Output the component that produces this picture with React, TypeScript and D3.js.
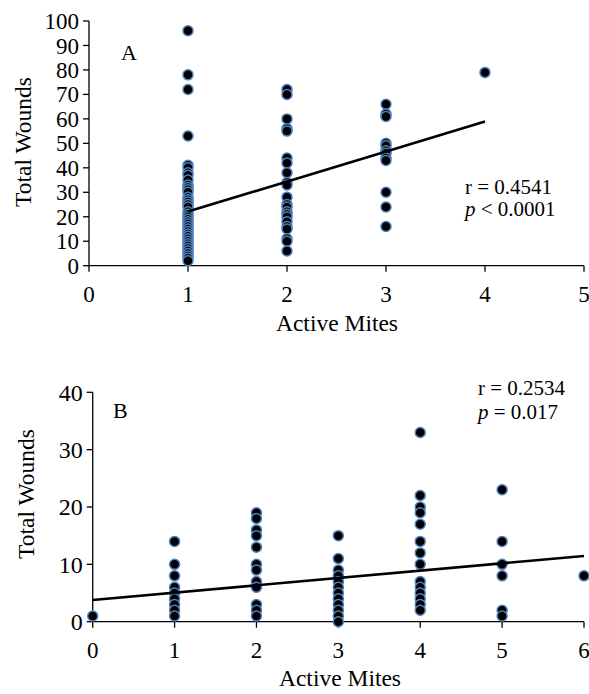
import React from "react";
import * as d3 from "d3";

// Panel A data: Active Mites -> Total Wounds
const aMites1 = [96, 78, 72, 53, 41, 40, 38, 37, 35, 33, 32, 31, 30, 28, 27, 26, 25, 24, 22, 21, 20, 19, 18, 17, 16, 15, 14, 13, 12, 11, 10, 9, 8, 7, 6, 5, 4, 3, 2];
const aMites2 = [72, 70, 60, 56, 55, 44, 42, 38, 34, 33, 28, 25, 24, 22, 21, 20, 18, 16, 15, 11, 10, 6];
const aMites3 = [66, 62, 61, 50, 49, 47, 46, 44, 43, 30, 24, 16];
const aMites4 = [79];
const aGroups = [
  { x: 1, ys: aMites1 },
  { x: 2, ys: aMites2 },
  { x: 3, ys: aMites3 },
  { x: 4, ys: aMites4 },
];
const aFit = { x0: 1, x1: 4, intercept: 9.85, slope: 12.27 };
const aXTicks = [0, 1, 2, 3, 4, 5];
const aYTicks = [0, 10, 20, 30, 40, 50, 60, 70, 80, 90, 100];

// Panel B data
const bMites0 = [1];
const bMites1 = [14, 10, 8, 6, 5, 4, 3, 2, 1];
const bMites2 = [19, 18, 16, 15, 13, 10, 9, 7, 6, 3, 2, 1];
const bMites3 = [15, 11, 9, 8, 7, 6, 5, 4, 3, 2, 1, 0];
const bMites4 = [33, 22, 20, 19, 17, 14, 12, 10, 7, 6, 5, 4, 3, 2];
const bMites5 = [23, 14, 10, 8, 2, 1];
const bMites6 = [8];
const bGroups = [
  { x: 0, ys: bMites0 },
  { x: 1, ys: bMites1 },
  { x: 2, ys: bMites2 },
  { x: 3, ys: bMites3 },
  { x: 4, ys: bMites4 },
  { x: 5, ys: bMites5 },
  { x: 6, ys: bMites6 },
];
const bFit = { x0: 0, x1: 6, intercept: 3.78, slope: 1.28 };
const bXTicks = [0, 1, 2, 3, 4, 5, 6];
const bYTicks = [0, 10, 20, 30, 40];

const FONT = "'Liberation Serif', 'Times New Roman', Tinos, serif";
const DOT_FILL = "#000000";
const DOT_STROKE = "#4F81BD";

type Group = { x: number; ys: number[] };

function Panel(props: {
  x: d3.ScaleLinear<number, number>;
  y: d3.ScaleLinear<number, number>;
  groups: Group[];
  fit: { x0: number; x1: number; intercept: number; slope: number };
  xTicks: number[];
  yTicks: number[];
  yTickFont: number;
  letter: string;
  letterPos: [number, number];
  statR: string;
  statP: string;
  statPos: [number, number];
  statGap: number;
  xLabelY: number;
  xTitleY: number;
  xTitleX: number;
  yTitle: [number, number];
}) {
  const { x, y, groups, fit, xTicks, yTicks } = props;
  const [x0, x1] = x.range();
  const [yb, yt] = y.range();
  const line = d3
    .line<number>()
    .x((d) => x(d))
    .y((d) => y(fit.intercept + fit.slope * d));
  return (
    <g>
      {/* axes */}
      <line x1={x0} x2={x0} y1={yt} y2={yb} stroke="#000" strokeWidth={1.3} />
      <line x1={x0} x2={x1} y1={yb} y2={yb} stroke="#000" strokeWidth={1.3} />
      {yTicks.map((t) => (
        <g key={"yt" + t}>
          <line x1={x0 - 6} x2={x0} y1={y(t)} y2={y(t)} stroke="#000" strokeWidth={1.3} />
          <text x={x0 - 10} y={y(t)} dy="0.35em" textAnchor="end" fontSize={props.yTickFont} fontFamily={FONT}>
            {t}
          </text>
        </g>
      ))}
      {xTicks.map((t) => (
        <g key={"xt" + t}>
          <line x1={x(t)} x2={x(t)} y1={yb} y2={yb + 6} stroke="#000" strokeWidth={1.3} />
          <text x={x(t)} y={props.xLabelY} textAnchor="middle" fontSize={23} fontFamily={FONT}>
            {t}
          </text>
        </g>
      ))}
      {/* points */}
      {groups.map((g) =>
        g.ys.map((v, i) => (
          <circle
            key={g.x + "-" + i}
            cx={x(g.x)}
            cy={y(v)}
            r={5}
            fill={DOT_FILL}
            stroke={DOT_STROKE}
            strokeWidth={1.5}
          />
        ))
      )}
      {/* regression */}
      <path d={line([fit.x0, fit.x1]) || ""} stroke="#000" strokeWidth={2.6} fill="none" />
      {/* labels */}
      <text x={props.letterPos[0]} y={props.letterPos[1]} fontSize={22} fontFamily={FONT}>
        {props.letter}
      </text>
      <text x={props.statPos[0]} y={props.statPos[1]} fontSize={21} fontFamily={FONT}>
        {props.statR}
      </text>
      <text x={props.statPos[0]} y={props.statPos[1] + props.statGap} fontSize={21} fontFamily={FONT}>
        <tspan fontStyle="italic">p</tspan>
        {props.statP}
      </text>
      <text x={props.xTitleX} y={props.xTitleY} textAnchor="middle" fontSize={23.5} fontFamily={FONT}>
        Active Mites
      </text>
      <text
        transform={`translate(${props.yTitle[0]},${props.yTitle[1]}) rotate(-90)`}
        textAnchor="middle"
        dy="0.35em"
        fontSize={23.5}
        fontFamily={FONT}
      >
        Total Wounds
      </text>
    </g>
  );
}

export default function App() {
  const xA = d3.scaleLinear().domain([0, 5]).range([89, 584]);
  const yA = d3.scaleLinear().domain([0, 100]).range([265.7, 21]);
  const xB = d3.scaleLinear().domain([0, 6]).range([92.7, 584]);
  const yB = d3.scaleLinear().domain([0, 40]).range([621.7, 392.3]);
  return (
    <svg
      width={589}
      height={694}
      style={{ position: "absolute", left: 0, top: 0, background: "#fff" }}
    >
      <rect width={589} height={694} fill="#fff" />
      <Panel
        x={xA}
        y={yA}
        groups={aGroups}
        fit={aFit}
        xTicks={aXTicks}
        yTicks={aYTicks}
        yTickFont={23}
        letter="A"
        letterPos={[121, 59.5]}
        statR="r = 0.4541"
        statP=" < 0.0001"
        statPos={[465, 194]}
        statGap={22}
        xLabelY={302}
        xTitleY={331}
        xTitleX={337}
        yTitle={[23, 142]}
      />
      <Panel
        x={xB}
        y={yB}
        groups={bGroups}
        fit={bFit}
        xTicks={bXTicks}
        yTicks={bYTicks}
        yTickFont={24}
        letter="B"
        letterPos={[113, 418.3]}
        statR="r = 0.2534"
        statP=" = 0.017"
        statPos={[478, 394.5]}
        statGap={24}
        xLabelY={658}
        xTitleY={686}
        xTitleX={340}
        yTitle={[26, 494]}
      />
    </svg>
  );
}
